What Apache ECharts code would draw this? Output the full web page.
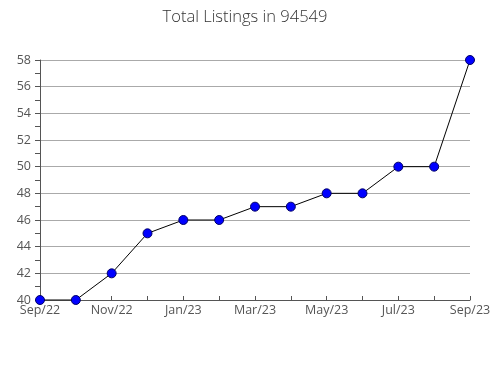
<!DOCTYPE html>
<html><head><meta charset="utf-8">
<script src="https://cdn.jsdelivr.net/npm/echarts@6/dist/echarts.min.js"></script>
<style>html,body{margin:0;padding:0;background:#fff}#c{width:490px;height:380px}</style>
</head><body><div id="c"></div>
<script>
const categories = ['Sep/22','Oct/22','Nov/22','Dec/22','Jan/23','Feb/23','Mar/23','Apr/23','May/23','Jun/23','Jul/23','Aug/23','Sep/23'];
const listings = [40,40,42,45,46,46,47,47,48,48,50,50,58];
const yMin = 40, yMax = 58, yStep = 2;
const chart = echarts.init(document.getElementById('c'));
chart.setOption({
  animation:false,
  title:{text:'Total Listings in 94549',left:'center',top:4,textStyle:{fontFamily:'Open Sans',fontSize:16.5,fontWeight:300,color:'#333'}},
  grid:{left:40,right:20,top:60,bottom:80,containLabel:false,outerBoundsMode:'none'},
  xAxis:{type:'category',data:categories,boundaryGap:false,
    axisLine:{lineStyle:{color:'#555'}},
    axisTick:{show:true,inside:true,interval:0,length:4,lineStyle:{color:'#555'}},
    axisLabel:{interval:1,color:'#555',fontFamily:'Open Sans',fontSize:12.5,margin:4,showMaxLabel:true},
    splitLine:{show:false}},
  yAxis:{type:'value',min:yMin,max:yMax,interval:yStep,
    axisLine:{show:true,lineStyle:{color:'#555'}},
    axisTick:{show:true,length:5,lineStyle:{color:'#555'}},
    minorTick:{show:true,splitNumber:2,length:5,lineStyle:{color:'#555'}},
    axisLabel:{color:'#555',fontFamily:'Open Sans',fontSize:12.5,margin:9},
    splitLine:{lineStyle:{color:'#aaa'}}},
  series:[{type:'line',data:listings,symbol:'circle',symbolSize:9,
    lineStyle:{color:'#000',width:1},
    itemStyle:{color:'#0000ff',borderColor:'#000066',borderWidth:1}}]
});
</script></body></html>
